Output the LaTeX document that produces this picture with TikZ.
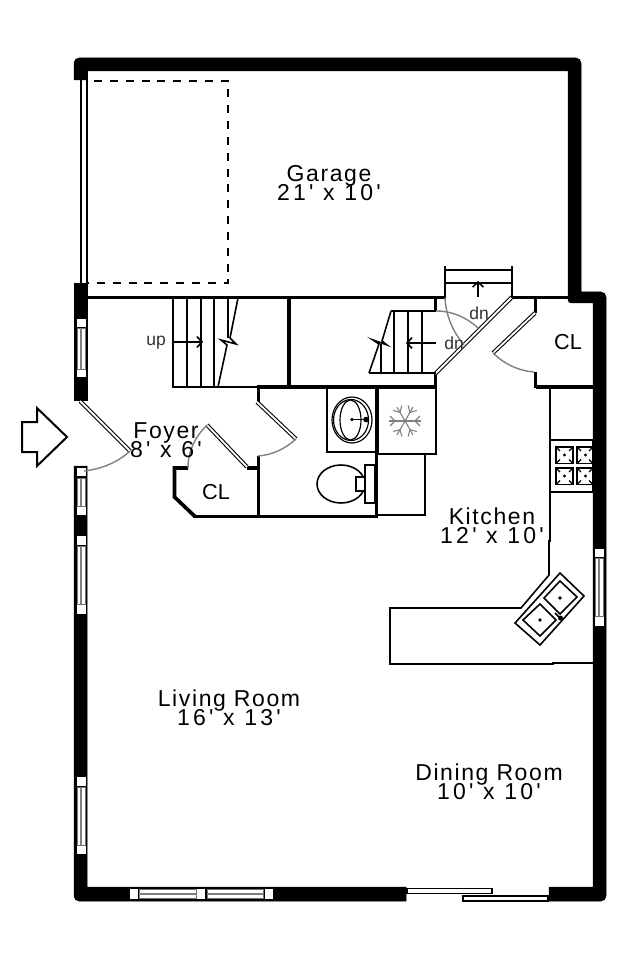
\documentclass[tikz,border=0pt]{standalone}
\usepackage{fontspec}
\usepackage{tikz}
\usetikzlibrary{arrows.meta}
\newfontfamily\planfont[LetterSpace=7]{Liberation Sans}
\newfontfamily\dimfont[LetterSpace=14]{Liberation Sans}
\newfontfamily\smallfont{Liberation Sans}
\newcommand{\roomfont}{\planfont\fontsize{13.8}{11.4}\selectfont\setlength{\lineskiplimit}{-100pt}}
\tikzset{
  wallfill/.style={fill=black,draw=black,line width=0.3pt},
  partition/.style={draw=black,line width=2.2pt},
  stub/.style={draw=black,line width=2.2pt,line cap=butt},
  fineline/.style={draw=black,line width=0.95pt},
  doorleaf/.style={draw=black,line width=0.65pt,double=white,double distance=1.1pt},
  swing/.style={draw=black!50,line width=0.85pt},
  glass/.style={fill=white,draw=black!55,line width=0.3pt},
  flake/.style={draw=black!50,line width=0.65pt},
  roomlabel/.style={font=\roomfont,align=center,inner sep=0pt},
  closetlabel/.style={font=\smallfont\fontsize{13}{13}\selectfont,inner sep=0pt},
  stairlabel/.style={font=\smallfont\fontsize{10.5}{10.5}\selectfont,inner sep=0pt,text=black!80},
  stairhead/.style={-{Straight Barb[length=3pt,width=6.5pt]}}
}
\begin{document}
\begin{tikzpicture}[x=0.6pt,y=0.6pt,yscale=-1,xscale=1]
\useasboundingbox (0,0) rectangle (640,960);

%Shape: outer walls, garage and right side
\path[wallfill] (74,80) [rounded corners=3pt] -- (74,58) -- (581,58) [sharp corners] -- (581,292) [rounded corners=3pt] -- (606,292) -- (606,901) [sharp corners] -- (549,901) -- (549,887) -- (593,887) -- (593,303) [rounded corners=2pt] -- (568,303) [sharp corners] -- (568,71) -- (87,71) -- (87,80) -- cycle;
%Shape: outer walls, left above the door
\path[wallfill] (74,283) -- (87,283) -- (87,400) -- (74,400) -- cycle;
%Shape: outer walls, left below the door and bottom
\path[wallfill] (74,466) -- (87,466) -- (87,887) -- (406,887) -- (406,901) [rounded corners=3pt] -- (74,901) [sharp corners] -- cycle;

%Garage door
\draw[fineline] (81,80) -- (81,283);
\draw[line width=1.3pt] (87,71) -- (87,283);
%Garage outline of the car
\draw[line width=1.15pt,dash pattern=on 4.8pt off 4.7pt] (94,81) -- (228,81) -- (228,283) -- (87,283);

%Windows, left and right
\foreach \wx/\ya/\yb in {77/319/327,77/370/377,77/468/476,77/507/515,77/536/545,77/605/614,77/777/786,77/846/854,595/549/557,595/617/626}{
  \fill[white] (\wx,\ya) rectangle (\wx+8.5,\yb);
}
\foreach \wx/\ya/\yb in {77/328/369,77/478/506,77/546/604,77/787/845,595/558/616}{
  \path[glass] (\wx,\ya) rectangle (\wx+8.5,\yb);
  \fill[black!50] (\wx+3.4,\ya) rectangle (\wx+5.1,\yb);
}
%Windows, bottom
\foreach \xa/\xb in {130/137.5,197/205,265/272.5}{
  \fill[white] (\xa,889) rectangle (\xb,899);
}
\foreach \xa/\xb in {139/196,207/263}{
  \path[glass] (\xa,889.5) rectangle (\xb,898.5);
  \fill[black!50] (\xa,893.2) rectangle (\xb,894.8);
}
%Sliding door
\path[draw=black,fill=white,line width=0.8pt] (407,888.5) rectangle (492,893.5);
\path[draw=black,fill=white,line width=0.8pt] (463,896) rectangle (548,901);

%Interior walls
\draw[partition] (87,297.5) -- (445,297.5);
\draw[partition] (512,297.5) -- (568,297.5);
\draw[partition] (289,298) -- (289,387);
\draw[partition] (257,387) -- (437,387);
\draw[partition] (535.5,387) -- (593,387);
\draw[partition] (258.5,387) -- (258.5,402);
\draw[partition] (258.5,456) -- (258.5,517);
\draw[partition] (193,516.5) -- (378,516.5);
\draw[partition] (376.5,387) -- (376.5,517);
\draw[partition] (188,468) -- (174.5,468) -- (174.5,497) -- (195,516.5);
\draw[partition] (247,468) -- (258,468);
\draw[stub] (435.5,298) -- (435.5,311);
\draw[stub] (435.5,373) -- (435.5,388);
\draw[stub] (535.5,298) -- (535.5,313);
\draw[stub] (535.5,372) -- (535.5,388);

%Door leaves
\draw[doorleaf] (80,401) -- (130,451);
\draw[doorleaf] (207,425) -- (247,467);
\draw[doorleaf] (257,402) -- (296,439);
\draw[doorleaf] (512,297) -- (435,374);
\draw[doorleaf] (535,313) -- (493,353);
%Door swings
\draw[swing] (130,451) .. controls (117,463) and (101,469) .. (84,471);
\draw[swing] (207,425) .. controls (195,437) and (188,451) .. (188,468);
\draw[swing] (296,439) .. controls (285,449) and (272,455) .. (258,456);
\draw[swing] (445,298) .. controls (446,316) and (453,332) .. (464,345);
\draw[swing] (436,311) .. controls (452,311) and (466,317) .. (478,328);
\draw[swing] (493,353) .. controls (504,364) and (519,371) .. (534,372);

%Stairs going up
\draw[fineline] (173,298) -- (173,387) -- (257,387);
\foreach \tx in {187,201,214}{
  \draw[fineline] (\tx,298) -- (\tx,387);
}
\draw[fineline] (228,298) -- (228,338);
\draw[fineline] (238,298) -- (230,338) -- (236,344) -- (221,340) -- (227,345) -- (218,387);
\draw[fineline,stairhead] (173,342) -- (203,342);
%Stairs going down
\draw[fineline] (391,311) -- (436,311);
\draw[fineline] (369,373) -- (436,373);
\foreach \tx in {394,408,422}{
  \draw[fineline] (\tx,311) -- (\tx,373);
}
\draw[fineline] (381,344) -- (381,373);
\draw[fineline] (391,311) -- (382,341) -- (387,345) -- (373,340) -- (379,344) -- (369,373);
\draw[fineline,stairhead] (436,343) -- (406,343);
%Stairs beyond the diagonal door
\draw[fineline] (445,298) -- (445,266);
\draw[fineline] (512,298) -- (512,266);
\draw[fineline] (445,270) -- (512,270);
\draw[fineline] (445,283) -- (512,283);
\draw[fineline,stairhead] (478,297) -- (478,281);

%Vanity and sink
\draw[fineline] (327,387) -- (327,452) -- (377,452);
\draw[line width=0.7pt] (352,420) ellipse (20 and 23);
\draw[line width=0.7pt] (351,420) ellipse (17.5 and 20.5);
\draw[line width=0.7pt] (350.5,420) ellipse (10.5 and 20);
\fill (352,419.5) circle (1.8);
\draw[line width=0.7pt] (352,419.5) -- (367,419.5);
\fill (366,419.5) circle (2.8);
%Toilet
\draw[fineline] (341,484) ellipse (24 and 19);
\path[fineline,fill=white] (365,465) rectangle (375,503);
\path[fineline,fill=white] (356,477) rectangle (365,491);

%Refrigerator
\draw[fineline] (378,388) rectangle (436,454);
\foreach \ang in {0,60,...,300}{
  \draw[flake] (405,421) -- ++(\ang:16);
  \draw[flake] (405,421) ++(\ang:10) -- ++(\ang+45:7);
  \draw[flake] (405,421) ++(\ang:10) -- ++(\ang-45:7);
}
%Cabinet under the refrigerator
\draw[fineline] (378,454) -- (425,454) -- (425,515) -- (378,515);

%Kitchen counter
\draw[fineline] (550,388) -- (550,541) -- (549,541) -- (549,575) -- (521,608) -- (390,608) -- (390,664) -- (553,664) -- (553,663) -- (593,663);
%Sink in the counter
\path[fineline,fill=white] (560,573) -- (584,596) -- (540,645) -- (515,623) -- cycle;
\draw[fineline] (560,581) -- (577,597) -- (560,614) -- (544,598) -- cycle;
\draw[fineline] (540,604) -- (556,620) -- (540,636) -- (523,620) -- cycle;
\fill (560,598) circle (1.8);
\fill (540,620) circle (1.8);
\draw[fineline] (555,613) -- (561,619);
\fill (560.5,618) circle (2.5);

%Stove
\path[fineline,fill=white] (550,440) rectangle (593,492);
\foreach \bx/\bw in {556/17,577/16}{
  \foreach \by in {447,468}{
    \draw[line width=1pt] (\bx,\by) rectangle (\bx+\bw,\by+16.5);
    \draw[line width=0.7pt] (\bx,\by) -- ++(4,4) (\bx+\bw,\by) -- ++(-4,4) (\bx,\by+16.5) -- ++(4,-4) (\bx+\bw,\by+16.5) -- ++(-4,-4);
    \fill (\bx+8.5,\by+8) circle (1.6);
  }
}

%Entry arrow
\draw[line width=1.2pt] (22,422) -- (37,422) -- (37,408) -- (67,437) -- (37,466) -- (37,452) -- (22,452) -- cycle;

% Text Node
\node[roomlabel] (garagelabel) at (329,183) {Garage\\{\dimfont 21' x 10'}};
% Text Node
\node[roomlabel] (foyerlabel) at (166,440) {Foyer\\{\dimfont 8' x 6'}};
% Text Node
\node[roomlabel] (kitchenlabel) at (492,525.5) {Kitchen\\{\dimfont 12' x 10'}};
% Text Node
\node[roomlabel] (livinglabel) at (229,708) {Living Room\\{\dimfont 16' x 13'}};
% Text Node
\node[roomlabel] (dininglabel) at (489,781.5) {Dining Room\\{\dimfont 10' x 10'}};
% Text Node
\node[closetlabel] (closetleft) at (216,492) {CL};
% Text Node
\node[closetlabel] (closetright) at (568,342) {CL};
% Text Node
\node[stairlabel] (uplabel) at (156,343) {up};
% Text Node
\node[stairlabel] (dnupper) at (479,313) {dn};
% Text Node
\node[stairlabel] (dnlower) at (454,343) {dn};
\end{tikzpicture}
\end{document}
